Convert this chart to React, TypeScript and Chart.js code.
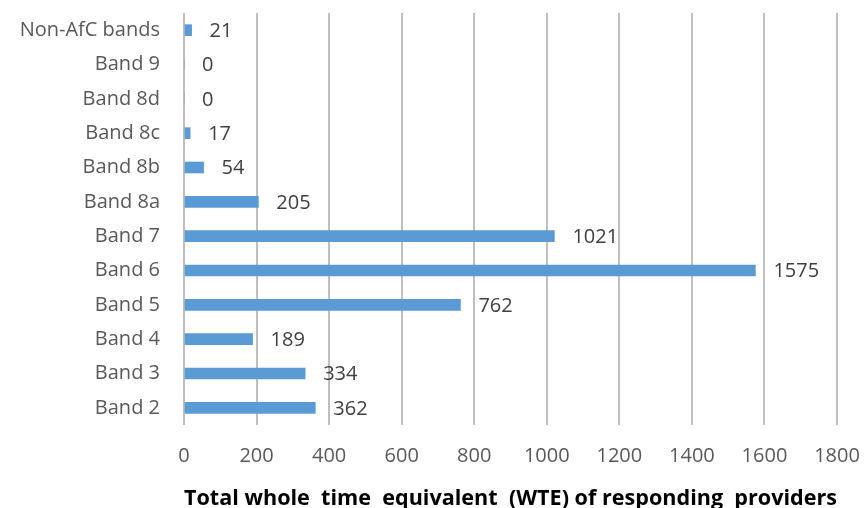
import React, { useEffect, useRef } from "react";
import { Chart, registerables } from "chart.js";

Chart.register(...registerables);

const categories = ["Non-AfC bands", "Band 9", "Band 8d", "Band 8c", "Band 8b", "Band 8a", "Band 7", "Band 6", "Band 5", "Band 4", "Band 3", "Band 2"];
const values = [21, 0, 0, 17, 54, 205, 1021, 1575, 762, 189, 334, 362];
const xTitle = "Total whole  time  equivalent  (WTE) of responding  providers";
const FONT = "'Open Sans', 'Liberation Sans', sans-serif";

const valueLabels = {
  id: "valueLabels",
  afterDatasetsDraw(chart: any) {
    const ctx = chart.ctx;
    const meta = chart.getDatasetMeta(0);
    ctx.save();
    ctx.font = `20px ${FONT}`;
    ctx.fillStyle = "#404040";
    ctx.textAlign = "left";
    ctx.textBaseline = "middle";
    meta.data.forEach((bar: any, i: number) => {
      ctx.fillText(String(values[i]), bar.x + 18, bar.y + 1);
    });
    ctx.restore();
  },
};

export default function App() {
  const ref = useRef<HTMLCanvasElement>(null);
  useEffect(() => {
    document.body.style.margin = "0";
    const chart = new Chart(ref.current!, {
      type: "bar",
      data: {
        labels: categories,
        datasets: [
          {
            data: values,
            backgroundColor: "#5B9BD5",
            borderWidth: 0,
            barThickness: 11,
          },
        ],
      },
      options: {
        indexAxis: "y",
        animation: false,
        responsive: false,
        layout: { padding: { left: 0, right: 29, top: 13, bottom: 0 } },
        plugins: { legend: { display: false }, tooltip: { enabled: false } },
        scales: {
          x: {
            min: 0,
            max: 1800,
            ticks: {
              stepSize: 200,
              color: "#595959",
              font: { family: FONT, size: 20 },
              padding: 19,
              maxRotation: 0,
              callback: (v: any) => String(v),
            },
            grid: { color: "#BFBFBF", lineWidth: 2, drawTicks: false },
            border: { display: false },
            title: {
              display: true,
              text: xTitle,
              color: "#000000",
              font: { family: FONT, size: 22, weight: "bold" },
              padding: { top: 14, bottom: -4 },
            },
            afterFit: (s: any) => {
              s.height = 83;
              s.paddingLeft = 0;
              s.paddingRight = 0;
            },
          },
          y: {
            ticks: { color: "#595959", font: { family: FONT, size: 20 }, padding: 24 },
            grid: { display: false, drawTicks: false },
            border: { display: false },
            afterFit: (s: any) => {
              s.width = 184;
              s.paddingTop = 0;
              s.paddingBottom = 0;
            },
          },
        },
      },
      plugins: [valueLabels],
    });
    return () => chart.destroy();
  }, []);
  return <canvas ref={ref} width={866} height={508} />;
}
